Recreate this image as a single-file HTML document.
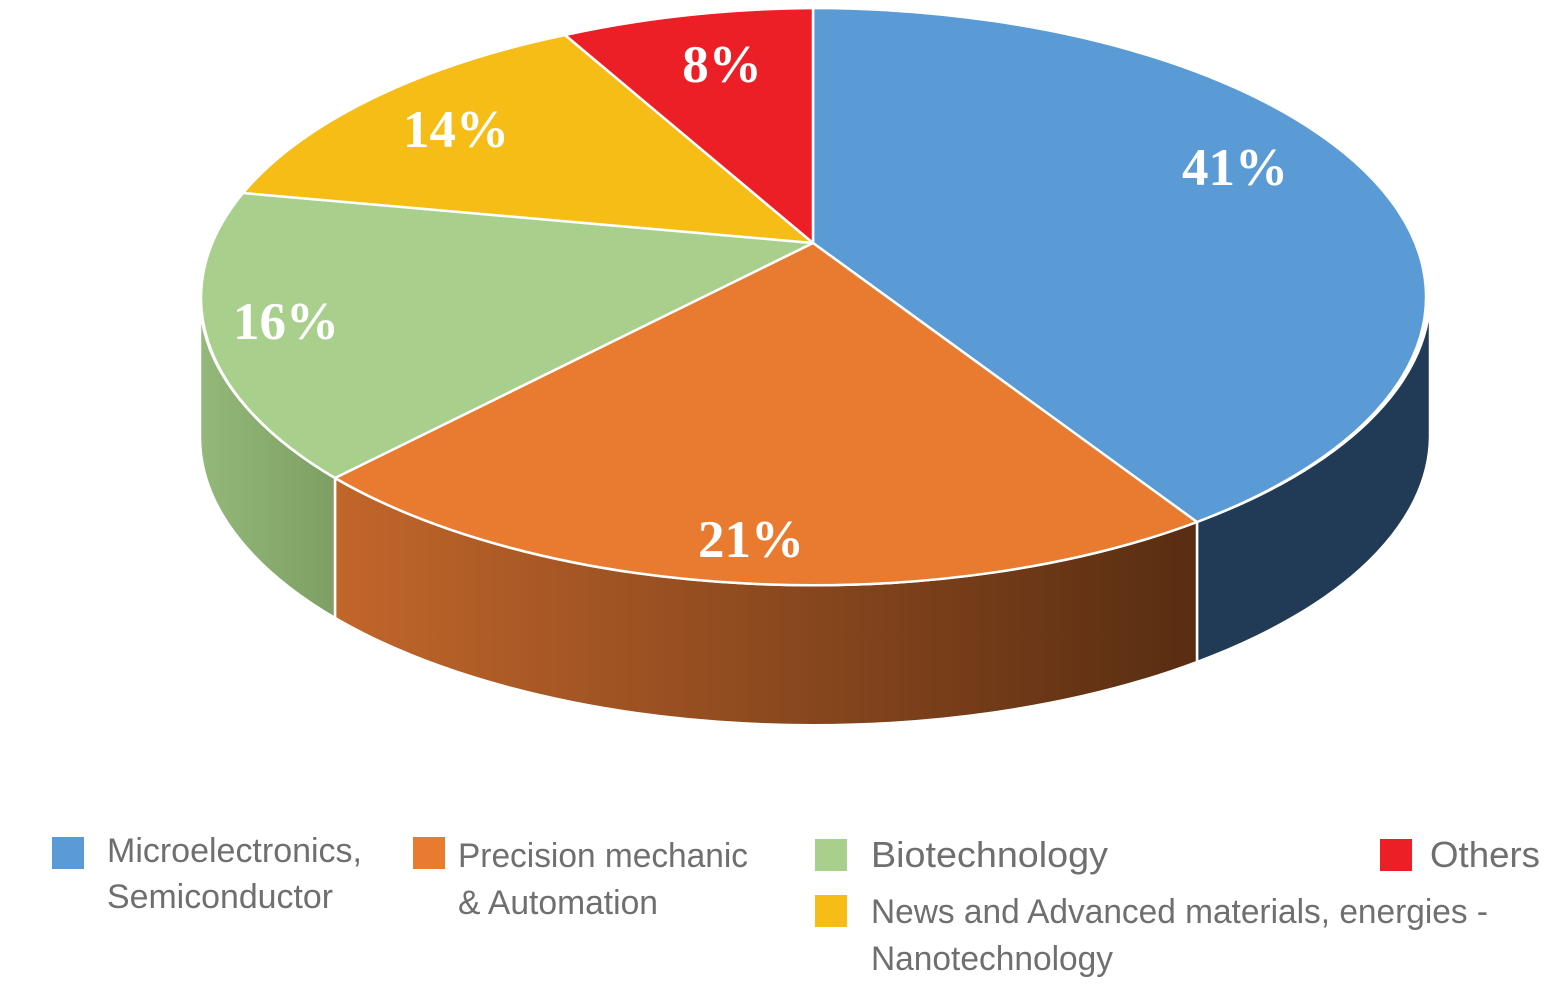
<!DOCTYPE html>
<html><head><meta charset="utf-8"><style>
html,body{margin:0;padding:0;background:#fff;}
svg{display:block;}
</style></head><body>
<svg width="1568" height="986" viewBox="0 0 1568 986" xmlns="http://www.w3.org/2000/svg">
<defs>
<linearGradient id="og" x1="0" x2="1" y1="0" y2="0">
<stop offset="0" stop-color="#c2662b"/><stop offset="1" stop-color="#582d12"/>
</linearGradient>
<linearGradient id="gg" x1="0" x2="1" y1="0" y2="0">
<stop offset="0" stop-color="#94b87a"/><stop offset="1" stop-color="#7d9f63"/>
</linearGradient>
</defs>
<g stroke="#fff" stroke-width="2.5" stroke-linejoin="round">
<path d="M1430,297 A615,289 0 0 1 1197,522 L1197,662 A615,289 0 0 0 1430,437 Z" fill="#213a55"/>
<path d="M1197,522 A615,289 0 0 1 335,478 L335,618 A615,289 0 0 0 1197,662 Z" fill="url(#og)"/>
<path d="M335,478 A615,289 0 0 1 200,297 L200,437 A615,289 0 0 0 335,618 Z" fill="url(#gg)"/>
<path d="M813,243 L813,8 A615,289 0 0 1 1197,522 Z" fill="#5b9bd5"/>
<path d="M813,243 L1197,522 A615,289 0 0 1 335,478 Z" fill="#e87b30"/>
<path d="M813,243 L335,478 A615,289 0 0 1 243,193 Z" fill="#a8cf8c"/>
<path d="M813,243 L243,193 A615,289 0 0 1 565,35 Z" fill="#f6bd16"/>
<path d="M813,243 L565,35 A615,289 0 0 1 813,8 Z" fill="#ec1f26"/>
</g>
<g font-family="Liberation Serif, serif" font-weight="bold" font-size="53" fill="#fff" text-anchor="middle">
<text x="1235" y="185">41%</text>
<text x="722" y="82">8%</text>
<text x="456" y="147">14%</text>
<text x="286" y="339">16%</text>
<text x="751" y="557">21%</text>
</g>
<g font-family="Liberation Sans, sans-serif" font-size="34" fill="#6f6f6f" lengthAdjust="spacingAndGlyphs">
<rect x="52" y="837" width="32" height="32" fill="#5b9bd5"/>
<text x="107" y="862" textLength="255" lengthAdjust="spacingAndGlyphs">Microelectronics,</text>
<text x="107" y="908" textLength="226" lengthAdjust="spacingAndGlyphs">Semiconductor</text>
<rect x="413" y="837" width="32" height="32" fill="#e87b30"/>
<text x="458" y="867" textLength="290" lengthAdjust="spacingAndGlyphs">Precision mechanic</text>
<text x="458" y="914" textLength="200" lengthAdjust="spacingAndGlyphs">&amp; Automation</text>
<rect x="815" y="839" width="32" height="32" fill="#a8cf8c"/>
<text x="871" y="867" font-size="36" textLength="237" lengthAdjust="spacingAndGlyphs">Biotechnology</text>
<rect x="1380" y="839" width="32" height="32" fill="#ec1f26"/>
<text x="1430" y="867" font-size="36" textLength="110" lengthAdjust="spacingAndGlyphs">Others</text>
<rect x="815" y="895" width="32" height="32" fill="#f6bd16"/>
<text x="871" y="923" textLength="617" lengthAdjust="spacingAndGlyphs">News and Advanced materials, energies -</text>
<text x="871" y="970" textLength="242" lengthAdjust="spacingAndGlyphs">Nanotechnology</text>
</g>
</svg>
</body></html>
